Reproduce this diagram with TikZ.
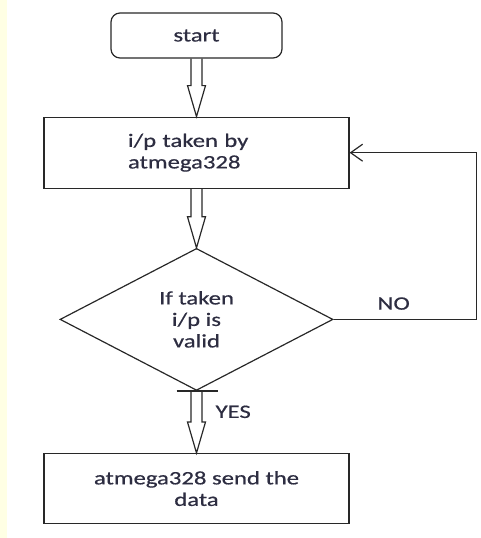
\documentclass[tikz,border=0pt]{standalone}
\usepackage{fontspec}
\setmainfont{Carlito}[FakeStretch=1.3, FakeBold=0.6]
\usetikzlibrary{positioning,calc,arrows.meta}
\usetikzlibrary{shapes.geometric}
\definecolor{ln}{RGB}{40,40,40}
\definecolor{tc}{RGB}{45,45,65}
\definecolor{pad}{RGB}{255,255,228}
\tikzset{
  se/.style={rectangle, rounded corners=9pt, minimum width=171pt, minimum height=45pt, text centered, draw=ln},
  op/.style={rectangle, minimum width=305pt, minimum height=71pt, draw=ln},
  cn/.style={diamond, aspect=1.92, minimum width=273pt, minimum height=142pt, text centered, draw=ln, inner sep=0pt},
  lb/.style={inner sep=0pt, text=tc},
  hol/.style={to path={let \p1=(\tikztostart), \p2=(\tikztotarget) in
    (\x1-5.5pt,\y1) -- (\x1-5.5pt,\y2+31pt) -- (\x1-9pt,\y2+31pt) -- (\x1,\y2)
    -- (\x1+9pt,\y2+31pt) -- (\x1+5.5pt,\y2+31pt) -- (\x1+5.5pt,\y1)}},
  node distance=58pt
}

\begin{document}
\begin{tikzpicture}[x=1pt, y=1pt, line width=1.2pt, color=ln, text=tc, font=\fontsize{19}{21.5}\selectfont]
\useasboundingbox (0,0) rectangle (480,-538);
\fill[pad] (0,0) rectangle (7,-538);
\node[se] (st) at (196.5,-35.5) {start};
\node[op, below=of st, inner xsep=84pt, text width=137pt, align=left] (in) {i/p taken by\\atmega328};
\draw (st.south) to[hol] (in.north);
\node[cn, below=59pt of in, align=center] (ck) {If taken\\i/p is\\valid};
\draw (in.south) to[hol] (ck.north);
\node[op, below=62pt of ck, minimum height=70pt, align=center] (snd) {atmega328 send the\\data};
\draw (ck.south) ++(-20,0) -- ++(41,0);
\draw (ck.south) to[hol] (snd.north);
\node[lb, below right=14pt and 18.5pt of ck.south] (yes) {YES};
% NO branch back to the input
\draw[-{Straight Barb[length=12pt,width=17pt]}] (ck.east) -- ++(143,0) coordinate (bk) |- (in.east);
\path (ck.east) -- (bk) node[lb, pos=0.42, above=9pt] (no) {NO};
\end{tikzpicture}
\end{document}
